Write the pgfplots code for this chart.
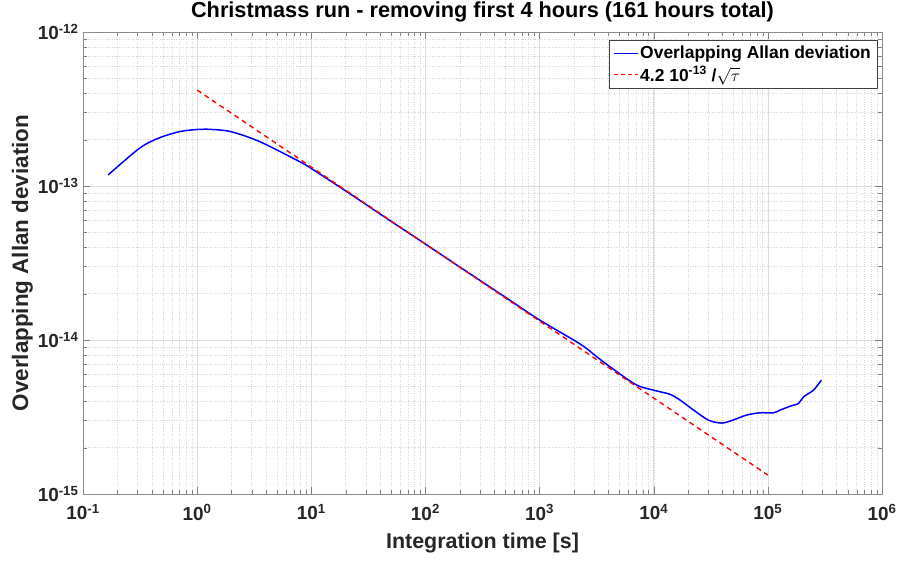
\documentclass[border=0pt]{standalone}
\usepackage{fontspec}
\setmainfont{Liberation Sans}
\usepackage{pgfplots}
\pgfplotsset{compat=1.18}
\definecolor{mblue}{rgb}{0,0,1}
\definecolor{mred}{rgb}{1,0,0}
\definecolor{mtext}{rgb}{0.15,0.15,0.15}
\newcommand{\tl}[1]{\textbf{10\textsuperscript{#1}}}
\begin{document}
\begin{tikzpicture}
\begin{loglogaxis}[
  name=ax,
  scale only axis, width=799bp, height=462bp,
  xmin=1e-1, xmax=1e6, ymin=1e-15, ymax=1e-12,
  xtick={1e-1,1,1e1,1e2,1e3,1e4,1e5,1e6},
  xticklabels={\tl{-1},\tl{0},\tl{1},\tl{2},\tl{3},\tl{4},\tl{5},\tl{6}},
  ytick={1e-15,1e-14,1e-13,1e-12},
  yticklabels={\tl{-15},\tl{-14},\tl{-13},\tl{-12}},
  grid=both,
  major grid style={black!13, line width=0.5pt},
  minor grid style={black!16, dotted, line width=0.4pt},
  axis line style={black!45},
  tick style={black!50},
  tick align=inside,
  major tick length=7bp, minor tick length=4bp,
  ticklabel style={font=\fontsize{19}{20}\selectfont, text=mtext},
  xticklabel style={yshift=-7bp},
  yticklabel style={xshift=-1bp},
  title={Christmass run - removing first 4 hours (161 hours total)},
  title style={font=\bfseries\fontsize{21.8}{24}\selectfont, text=black, at={(0.5,1)}, anchor=base, inner sep=0pt, yshift=9bp},
  xlabel={Integration time [s]},
  ylabel={Overlapping Allan deviation},
  xlabel style={font=\bfseries\fontsize{21.5}{24}\selectfont, text=mtext, yshift=-6bp},
  ylabel style={font=\bfseries\fontsize{22.5}{24}\selectfont, text=mtext, yshift=-2bp},
  legend style={at={(1,1)}, anchor=north east, xshift=-5bp, yshift=-8bp,
    draw=black!75, fill=white, font=\bfseries\fontsize{17.5}{20}\selectfont,
    row sep=2bp, inner xsep=4bp, inner ysep=4bp},
  legend cell align=left,
  legend image code/.code={\draw[#1] (0bp,0bp) -- (24bp,0bp);},
]
\addplot[mblue, line width=1.5pt, smooth, forget plot] coordinates {
(0.166,1.18e-13) (0.316,1.77e-13) (0.47,2.06e-13) (0.71,2.26e-13) (1.0,2.33e-13)
(1.2,2.34e-13) (1.95,2.26e-13) (3.55,1.94e-13) (7.9,1.44e-13) (10,1.30e-13)
(20,9.3e-14) (50,5.9e-14) (100,4.2e-14) (200,2.98e-14) (500,1.90e-14)
(1000,1.35e-14) (2270,9.42e-15) (3160,7.8e-15) (4450,6.45e-15) (7110,5.1e-15)
(10640,4.67e-15) (13930,4.44e-15) (17060,4.07e-15) (22340,3.51e-15) (30200,3.02e-15)
(39540,2.89e-15) (50000,3.03e-15) (65460,3.26e-15) (85700,3.37e-15) (112200,3.37e-15)
(128200,3.51e-15) (157000,3.72e-15) (185800,3.88e-15) (205600,4.28e-15) (251200,4.73e-15)
(293800,5.49e-15)
};
\addplot[mred, line width=1.4pt, dash pattern=on 5bp off 4bp, forget plot] coordinates {
(1,4.2e-13) (1e5,1.328e-15)
};
\addlegendimage{mblue, line width=1.5pt}
\addlegendentry{Overlapping Allan deviation}
\addlegendimage{mred, line width=1.4pt, dash pattern=on 4bp off 3bp}
\addlegendentry{4.2 10\textsuperscript{-13} /$\sqrt{\tau}$}
\end{loglogaxis}
\pgfresetboundingbox
\path (ax.south west) ++(-83bp,-67bp) coordinate (bl);
\path (ax.north east) ++(20bp,32bp) coordinate (tr);
\path (bl) rectangle (tr);
\end{tikzpicture}
\end{document}
